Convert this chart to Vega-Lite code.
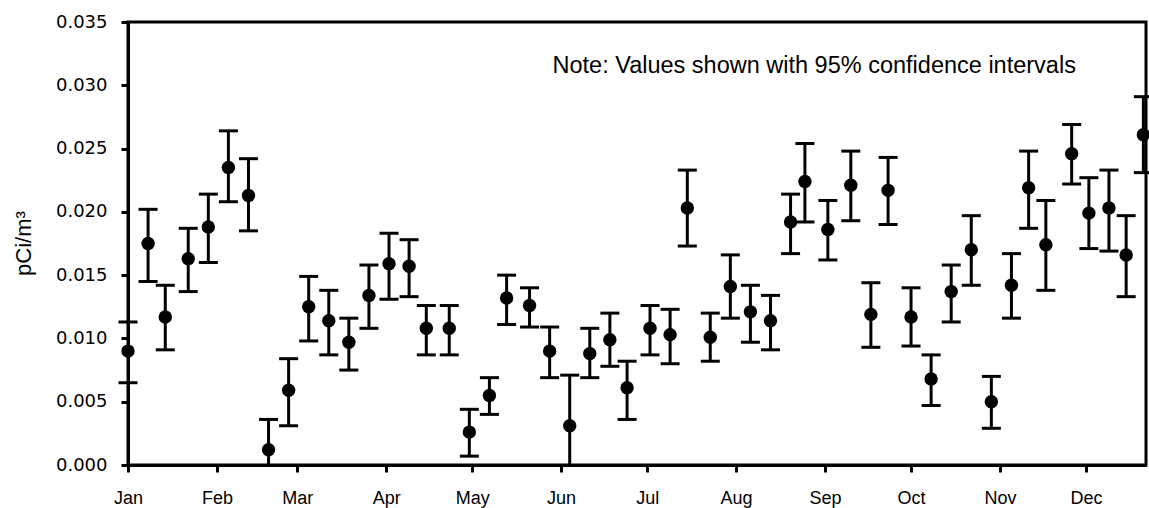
{
  "$schema": "https://vega.github.io/schema/vega-lite/v6.json",
  "width": 1018,
  "height": 443,
  "autosize": {"type": "none"},
  "padding": {"left": 128, "top": 22, "right": 3, "bottom": 43},
  "background": "white",
  "config": {
    "view": {"stroke": "black", "strokeWidth": 3},
    "axis": {
      "grid": false,
      "domainColor": "black",
      "domainWidth": 3,
      "tickColor": "black",
      "tickWidth": 3,
      "tickSize": 7,
      "labelColor": "black",
      "titleColor": "black"
    }
  },
  "data": {
    "values": [
      {"date": "2001-01-01", "value": 0.0090, "lo": 0.0065, "hi": 0.0113},
      {"date": "2001-01-08", "value": 0.0175, "lo": 0.0145, "hi": 0.0202},
      {"date": "2001-01-14", "value": 0.0117, "lo": 0.0091, "hi": 0.0142},
      {"date": "2001-01-22", "value": 0.0163, "lo": 0.0137, "hi": 0.0187},
      {"date": "2001-01-29", "value": 0.0188, "lo": 0.0160, "hi": 0.0214},
      {"date": "2001-02-05", "value": 0.0235, "lo": 0.0208, "hi": 0.0264},
      {"date": "2001-02-12", "value": 0.0213, "lo": 0.0185, "hi": 0.0242},
      {"date": "2001-02-19", "value": 0.0012, "lo": -0.0012, "hi": 0.0036},
      {"date": "2001-02-26", "value": 0.0059, "lo": 0.0031, "hi": 0.0084},
      {"date": "2001-03-05", "value": 0.0125, "lo": 0.0098, "hi": 0.0149},
      {"date": "2001-03-12", "value": 0.0114, "lo": 0.0087, "hi": 0.0138},
      {"date": "2001-03-19", "value": 0.0097, "lo": 0.0075, "hi": 0.0116},
      {"date": "2001-03-26", "value": 0.0134, "lo": 0.0108, "hi": 0.0158},
      {"date": "2001-04-02", "value": 0.0159, "lo": 0.0131, "hi": 0.0183},
      {"date": "2001-04-09", "value": 0.0157, "lo": 0.0133, "hi": 0.0178},
      {"date": "2001-04-15", "value": 0.0108, "lo": 0.0087, "hi": 0.0126},
      {"date": "2001-04-23", "value": 0.0108, "lo": 0.0087, "hi": 0.0126},
      {"date": "2001-04-30", "value": 0.0026, "lo": 0.0007, "hi": 0.0044},
      {"date": "2001-05-07", "value": 0.0055, "lo": 0.0040, "hi": 0.0069},
      {"date": "2001-05-13", "value": 0.0132, "lo": 0.0111, "hi": 0.0150},
      {"date": "2001-05-21", "value": 0.0126, "lo": 0.0109, "hi": 0.0140},
      {"date": "2001-05-28", "value": 0.0090, "lo": 0.0069, "hi": 0.0109},
      {"date": "2001-06-04", "value": 0.0031, "lo": -0.0009, "hi": 0.0071},
      {"date": "2001-06-11", "value": 0.0088, "lo": 0.0069, "hi": 0.0108},
      {"date": "2001-06-18", "value": 0.0099, "lo": 0.0078, "hi": 0.0120},
      {"date": "2001-06-24", "value": 0.0061, "lo": 0.0036, "hi": 0.0082},
      {"date": "2001-07-02", "value": 0.0108, "lo": 0.0087, "hi": 0.0126},
      {"date": "2001-07-09", "value": 0.0103, "lo": 0.0080, "hi": 0.0123},
      {"date": "2001-07-15", "value": 0.0203, "lo": 0.0173, "hi": 0.0233},
      {"date": "2001-07-23", "value": 0.0101, "lo": 0.0082, "hi": 0.0120},
      {"date": "2001-07-30", "value": 0.0141, "lo": 0.0116, "hi": 0.0166},
      {"date": "2001-08-06", "value": 0.0121, "lo": 0.0097, "hi": 0.0142},
      {"date": "2001-08-13", "value": 0.0114, "lo": 0.0091, "hi": 0.0134},
      {"date": "2001-08-20", "value": 0.0192, "lo": 0.0167, "hi": 0.0214},
      {"date": "2001-08-25", "value": 0.0224, "lo": 0.0192, "hi": 0.0254},
      {"date": "2001-09-02", "value": 0.0186, "lo": 0.0162, "hi": 0.0209},
      {"date": "2001-09-10", "value": 0.0221, "lo": 0.0193, "hi": 0.0248},
      {"date": "2001-09-17", "value": 0.0119, "lo": 0.0093, "hi": 0.0144},
      {"date": "2001-09-23", "value": 0.0217, "lo": 0.0190, "hi": 0.0243},
      {"date": "2001-10-01", "value": 0.0117, "lo": 0.0094, "hi": 0.0140},
      {"date": "2001-10-08", "value": 0.0068, "lo": 0.0047, "hi": 0.0087},
      {"date": "2001-10-15", "value": 0.0137, "lo": 0.0113, "hi": 0.0158},
      {"date": "2001-10-22", "value": 0.0170, "lo": 0.0142, "hi": 0.0197},
      {"date": "2001-10-29", "value": 0.0050, "lo": 0.0029, "hi": 0.0070},
      {"date": "2001-11-05", "value": 0.0142, "lo": 0.0116, "hi": 0.0167},
      {"date": "2001-11-11", "value": 0.0219, "lo": 0.0187, "hi": 0.0248},
      {"date": "2001-11-17", "value": 0.0174, "lo": 0.0138, "hi": 0.0209},
      {"date": "2001-11-26", "value": 0.0246, "lo": 0.0222, "hi": 0.0269},
      {"date": "2001-12-02", "value": 0.0199, "lo": 0.0171, "hi": 0.0227},
      {"date": "2001-12-09", "value": 0.0203, "lo": 0.0169, "hi": 0.0233},
      {"date": "2001-12-15", "value": 0.0166, "lo": 0.0133, "hi": 0.0197},
      {"date": "2001-12-21", "value": 0.0261, "lo": 0.0231, "hi": 0.0291}
    ]
  },
  "layer": [
    {
      "mark": {"type": "rule", "color": "black", "strokeWidth": 3, "clip": true},
      "encoding": {
        "x": {
          "field": "date",
          "type": "temporal",
          "title": null,
          "scale": {
            "type": "utc",
            "nice": false,
            "domain": [
              {"year": 2001, "month": 1, "date": 1, "utc": true},
              {"year": 2001, "month": 12, "date": 21, "hours": 22, "utc": true}
            ]
          },
          "axis": {
            "format": "%b",
            "tickCount": {"interval": "month", "step": 1},
            "labelFlush": false,
            "labelFont": "Liberation Sans",
            "labelFontSize": 18,
            "labelPadding": 17
          }
        },
        "y": {
          "field": "lo",
          "type": "quantitative",
          "title": "pCi/m³",
          "scale": {"domain": [0, 0.035], "nice": false, "zero": true},
          "axis": {
            "values": [0, 0.005, 0.01, 0.015, 0.02, 0.025, 0.03, 0.035],
            "format": ".3f",
            "labelFont": "DejaVu Sans",
            "labelFontSize": 18,
            "labelPadding": 14,
            "titleFont": "Liberation Sans",
            "titleFontSize": 22,
            "titleFontWeight": "normal",
            "titleAngle": -90,
            "titleAlign": "center",
            "titleBaseline": "middle",
            "titleX": -105,
            "titleY": 221
          }
        },
        "y2": {"field": "hi"}
      }
    },
    {
      "mark": {"type": "tick", "orient": "horizontal", "color": "black", "size": 19, "thickness": 3, "opacity": 1},
      "encoding": {
        "x": {"field": "date", "type": "temporal", "title": null},
        "y": {"field": "hi", "type": "quantitative", "title": "pCi/m³"}
      }
    },
    {
      "transform": [{"filter": "datum.lo >= 0"}],
      "mark": {"type": "tick", "orient": "horizontal", "color": "black", "size": 19, "thickness": 3, "opacity": 1},
      "encoding": {
        "x": {"field": "date", "type": "temporal", "title": null},
        "y": {"field": "lo", "type": "quantitative", "title": "pCi/m³"}
      }
    },
    {
      "mark": {"type": "point", "filled": true, "color": "black", "size": 180, "opacity": 1},
      "encoding": {
        "x": {"field": "date", "type": "temporal", "title": null},
        "y": {"field": "value", "type": "quantitative", "title": "pCi/m³"}
      }
    },
    {
      "data": {
        "values": [
          {"date": "2001-05-29", "value": 0.031, "label": "Note: Values shown with 95% confidence intervals"}
        ]
      },
      "mark": {"type": "text", "align": "left", "baseline": "alphabetic", "font": "Liberation Sans", "fontSize": 23.5, "color": "black"},
      "encoding": {
        "x": {"field": "date", "type": "temporal", "title": null},
        "y": {"field": "value", "type": "quantitative", "title": "pCi/m³"},
        "text": {"field": "label"}
      }
    }
  ]
}
